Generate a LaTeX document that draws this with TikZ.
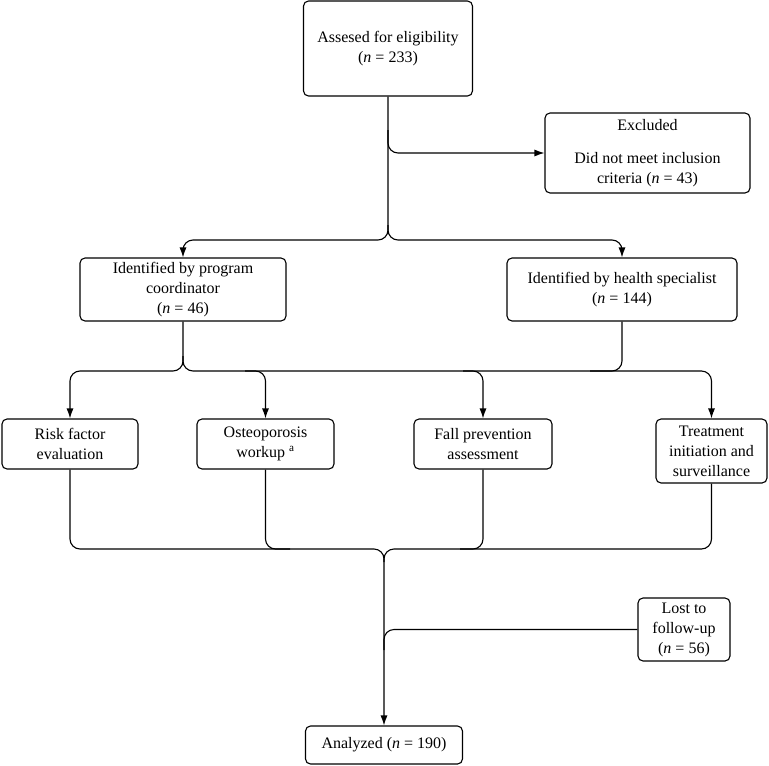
\documentclass[tikz,border=0pt]{standalone}
\usepackage{fontspec}
\setmainfont{Liberation Serif}
\usetikzlibrary{arrows.meta}
\begin{document}
\begin{tikzpicture}[x=1pt,y=-1pt,
 box/.style={draw, line width=1.1pt, rounded corners=5pt, inner sep=0pt, align=center, font=\fontsize{16}{20}\selectfont},
 conn/.style={line width=1.1pt, rounded corners=10pt},
 arr/.style={conn, -{Latex[length=10pt,width=7pt]}}]
\useasboundingbox (0,0) rectangle (769,766);
\node[box, minimum width=169pt, minimum height=95pt] (top) at (388,48.5) {Assesed for eligibility\\(\textit{n} = 233)};
\node[box, minimum width=205pt, minimum height=80pt] (excl) at (647.5,153) {Excluded\\[13pt]Did not meet inclusion\\criteria (\textit{n} = 43)};
\node[box, minimum width=206pt, minimum height=63pt] (prog) at (183,289.5) {Identified by program\\coordinator\\(\textit{n} = 46)};
\node[box, minimum width=230pt, minimum height=63pt] (health) at (622,289.5) {Identified by health specialist\\(\textit{n} = 144)};
\node[box, minimum width=136pt, minimum height=50pt] (risk) at (70,444) {Risk factor\\evaluation};
\node[box, minimum width=137pt, minimum height=50pt] (osteo) at (265.5,444) {Osteoporosis\\workup \textsuperscript{a}};
\node[box, minimum width=138pt, minimum height=50pt] (fall) at (483,444) {Fall prevention\\assessment};
\node[box, minimum width=111pt, minimum height=64pt] (treat) at (711.5,451) {Treatment\\initiation and\\surveillance};
\node[box, minimum width=92pt, minimum height=63pt] (lost) at (684,629.5) {Lost to\\follow-up\\(\textit{n} = 56)};
\node[box, minimum width=157pt, minimum height=38pt] (anal) at (384,745) {Analyzed (\textit{n} = 190)};
\coordinate (t1) at (388,225);
\coordinate (t2) at (388,130);
\coordinate (p1) at (183,356);
\coordinate (o1) at (245,371);
\coordinate (f1) at (463,371);
\coordinate (h1) at (590,371);
\coordinate (m1) at (290,549);
\coordinate (m2) at (460,549);
\coordinate (m3) at (384,562);
\coordinate (l1) at (384,650);
% top split
\draw[arr] (top.south) -- (388,240) -| (prog.north);
\draw[arr] (t1) -- (388,240) -| (health.north);
\draw[arr] (t2) |- (excl.west);
% second split
\draw[arr] (prog.south) -- (183,371) -| (risk.north);
\draw[arr] (p1) -- (183,371) -| (treat.north);
\draw[arr] (o1) -| (osteo.north);
\draw[arr] (f1) -| (fall.north);
\draw[conn] (health.south) |- (h1);
% merge
\draw[arr] (risk.south) |- (384,549) -- (anal.north);
\draw[conn] (treat.south) |- (384,549) -- (m3);
\draw[conn] (osteo.south) |- (m1);
\draw[conn] (fall.south) |- (m2);
\draw[conn] (lost.west) -| (l1);
\end{tikzpicture}
\end{document}
